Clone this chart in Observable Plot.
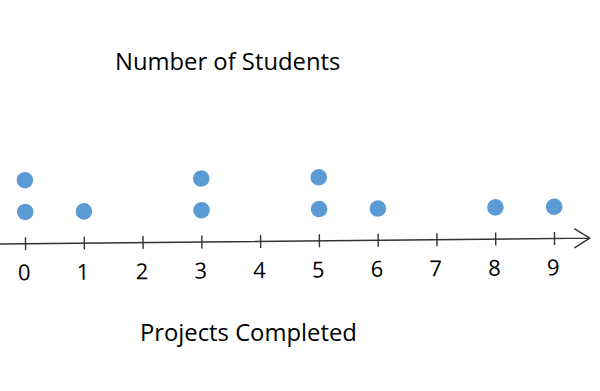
<!DOCTYPE html>
<html><head><meta charset="utf-8">
<script src="https://cdn.jsdelivr.net/npm/d3@7"></script>
<script src="https://cdn.jsdelivr.net/npm/@observablehq/plot@0.6"></script>
<style>
html,body{margin:0;padding:0;background:#fff;}
#wrap{position:relative;width:600px;height:391px;overflow:hidden;font-family:"Open Sans",sans-serif;}
#chart{position:absolute;left:0;top:0;}
#chart svg{transform:rotate(-0.56deg);transform-origin:300px 240.5px;}
.t{position:absolute;font-size:23.8px;line-height:23.8px;color:#000;white-space:nowrap;}
</style></head>
<body>
<div id="wrap">
  <div id="title" class="t" style="left:115px;top:50px"></div>
  <div id="chart"></div>
  <div id="xlabel" class="t" style="left:140px;top:320.5px"></div>
</div>
<script>
const titleText = "Number of Students";
const xLabelText = "Projects Completed";
// number of projects completed by each student
const projectsPerStudent = [0, 0, 1, 3, 3, 5, 5, 6, 8, 9];
const tickValues = [0, 1, 2, 3, 4, 5, 6, 7, 8, 9];
const tickLabels = ["0", "1", "2", "3", "4", "5", "6", "7", "8", "9"];
const axisStart = -0.45;
const axisEnd = 9.6;

document.getElementById("title").textContent = titleText;
document.getElementById("xlabel").textContent = xLabelText;

const students = projectsPerStudent.map(p => ({projects: p, count: 1}));
const ticks = tickValues.map((v, i) => ({value: v, label: tickLabels[i]}));

const chart = Plot.plot({
  width: 600,
  height: 391,
  marginLeft: 25,
  marginRight: 46,
  marginTop: 0,
  marginBottom: 0,
  x: {domain: [0, 9], axis: null},
  y: {domain: [0, 2], range: [240.5, 177], axis: null},
  style: {fontFamily: "Open Sans", background: "transparent", overflow: "visible"},
  marks: [
    Plot.arrow([{from: axisStart, to: axisEnd}], {
      x1: "from", x2: "to", y1: () => 0, y2: () => 0,
      stroke: "#333", strokeWidth: 1.4, headLength: 19, headAngle: 64
    }),
    Plot.ruleX(ticks, {
      x: "value", y1: () => 0, y2: () => 0,
      insetTop: -6, insetBottom: -7, stroke: "#333", strokeWidth: 1.4
    }),
    Plot.text(ticks, {
      x: "value", y: () => 0, dy: 29.5, dx: -1.5, text: "label",
      fontSize: 22, fill: "#000"
    }),
    Plot.dot(students, Plot.stackY2({
      x: "projects", y: "count", r: 8.3, fill: "#5b9bd5"
    }))
  ]
});
document.getElementById("chart").appendChild(chart);
</script>
</body></html>
